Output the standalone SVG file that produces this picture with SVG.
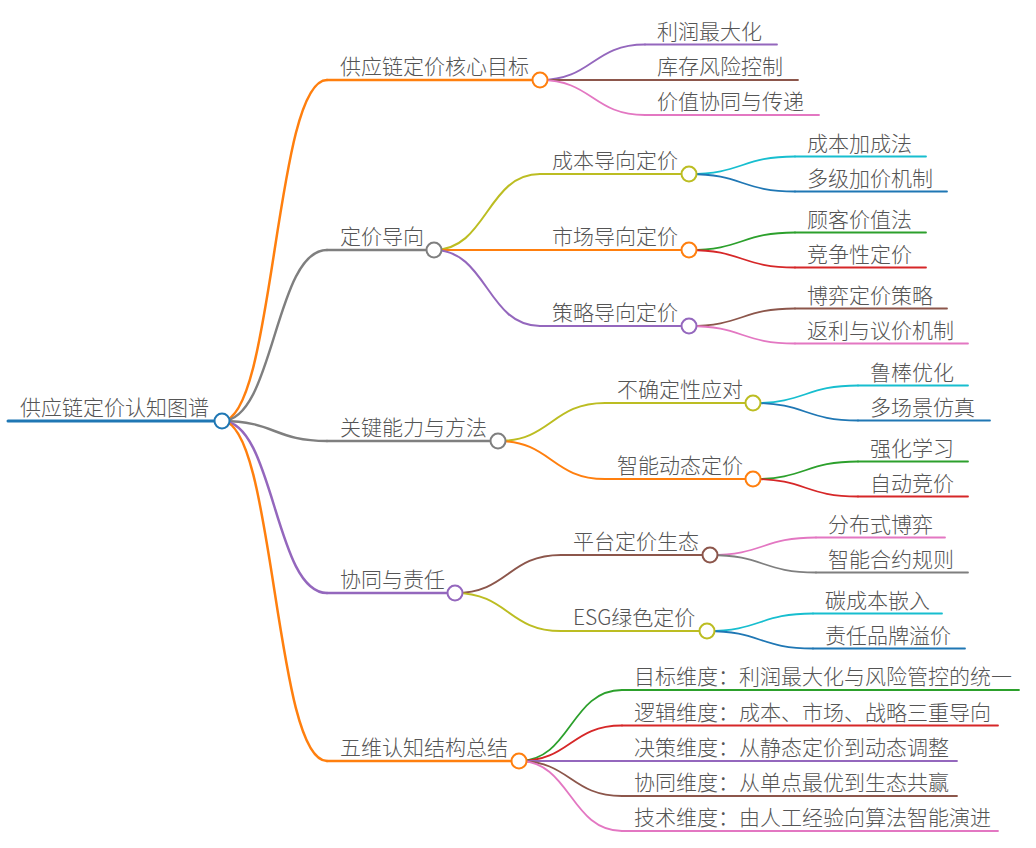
<svg xmlns="http://www.w3.org/2000/svg" width="1036" height="848" viewBox="0 0 1036 848">
<style>
text{font-family:"Noto Sans CJK SC","Noto Sans",sans-serif;font-size:21px;font-weight:300;fill:#555;}
path,line{fill:none;stroke-linecap:round;}
.c{fill:#fff;stroke-width:2;}
.l1{stroke-width:2.5;}
.l2{stroke-width:2;}
.l3{stroke-width:1.8;}
.or{stroke:#ff7f0e}.gy{stroke:#7f7f7f}.pu{stroke:#9467bd}.br{stroke:#8c564b}.pk{stroke:#e377c2}
.ol{stroke:#bcbd22}.cy{stroke:#17becf}.bl{stroke:#1f77b4}.gr{stroke:#2ca02c}.rd{stroke:#d62728}
</style>
<rect width="1036" height="848" fill="#fff"/>
<g id="connectors">
<path class="l1 or" d="M222,421 C274.5,421 274.5,80 327,80"/>
<path class="l1 gy" d="M222,421 C274.5,421 274.5,250 327,250"/>
<path class="l1 gy" d="M222,421 C274.5,421 274.5,441 327,441"/>
<path class="l1 pu" d="M222,421 C274.5,421 274.5,593 327,593"/>
<path class="l1 or" d="M222,421 C274.5,421 274.5,761 327,761"/>
<path class="l3 pu" d="M540,80 C592.5,80 592.5,44.5 645,44.5"/>
<path class="l3 br" d="M540,80 C592.5,80 592.5,80 645,80"/>
<path class="l3 pk" d="M540,80 C592.5,80 592.5,115 645,115"/>
<path class="l2 ol" d="M434,250 C487,250 487,174 540,174"/>
<path class="l2 or" d="M434,250 C487,250 487,250 540,250"/>
<path class="l2 pu" d="M434,250 C487,250 487,326 540,326"/>
<path class="l3 cy" d="M689,174 C742,174 742,156.5 795,156.5"/>
<path class="l3 bl" d="M689,174 C742,174 742,191.5 795,191.5"/>
<path class="l3 gr" d="M689,250 C742,250 742,232.5 795,232.5"/>
<path class="l3 rd" d="M689,250 C742,250 742,267.5 795,267.5"/>
<path class="l3 br" d="M689,326 C742,326 742,308.5 795,308.5"/>
<path class="l3 pk" d="M689,326 C742,326 742,343.5 795,343.5"/>
<path class="l2 ol" d="M498,441 C551.5,441 551.5,403 605,403"/>
<path class="l2 or" d="M498,441 C551.5,441 551.5,479 605,479"/>
<path class="l3 cy" d="M753,403 C805.5,403 805.5,385.5 858,385.5"/>
<path class="l3 bl" d="M753,403 C805.5,403 805.5,420.5 858,420.5"/>
<path class="l3 gr" d="M753,479 C805.5,479 805.5,461.5 858,461.5"/>
<path class="l3 rd" d="M753,479 C805.5,479 805.5,496.5 858,496.5"/>
<path class="l2 br" d="M455,593 C508,593 508,555 561,555"/>
<path class="l2 ol" d="M455,593 C508,593 508,631 561,631"/>
<path class="l3 pk" d="M710,555 C763,555 763,537.5 816,537.5"/>
<path class="l3 gy" d="M710,555 C763,555 763,572.5 816,572.5"/>
<path class="l3 cy" d="M707,631 C760,631 760,613.5 813,613.5"/>
<path class="l3 bl" d="M707,631 C760,631 760,648.5 813,648.5"/>
<path class="l3 gr" d="M519,761 C570.5,761 570.5,690 622,690"/>
<path class="l3 rd" d="M519,761 C570.5,761 570.5,725.5 622,725.5"/>
<path class="l3 pu" d="M519,761 C570.5,761 570.5,761 622,761"/>
<path class="l3 br" d="M519,761 C570.5,761 570.5,796 622,796"/>
<path class="l3 pk" d="M519,761 C570.5,761 570.5,831 622,831"/>
</g>
<g id="root">
<line x1="8" y1="421" x2="215" y2="421" stroke="#1f77b4" stroke-width="3"/>
<text x="20" y="415">供应链定价认知图谱</text>
<circle class="c bl" cx="222" cy="421" r="7.5"/>
</g>
<g id="n-goal">
<line class="l1 or" x1="327" y1="80" x2="532" y2="80"/>
<text x="340" y="74">供应链定价核心目标</text>
<circle class="c or" cx="540" cy="80" r="7.5"/>
</g>
<g id="n-goal-1"><line class="l3 pu" x1="645" y1="44.5" x2="777" y2="44.5"/><text x="657" y="38.5">利润最大化</text></g>
<g id="n-goal-2"><line class="l3 br" x1="645" y1="80" x2="798" y2="80"/><text x="657" y="74">库存风险控制</text></g>
<g id="n-goal-3"><line class="l3 pk" x1="645" y1="115" x2="819" y2="115"/><text x="657" y="109">价值协同与传递</text></g>
<g id="n-orient">
<line class="l1 gy" x1="327" y1="250" x2="426" y2="250"/>
<text x="340" y="244">定价导向</text>
<circle class="c gy" cx="434" cy="250" r="7.5"/>
</g>
<g id="n-cost">
<line class="l2 ol" x1="540" y1="174" x2="681" y2="174"/>
<text x="552" y="168">成本导向定价</text>
<circle class="c ol" cx="689" cy="174" r="7.5"/>
</g>
<g id="n-cost-1"><line class="l3 cy" x1="795" y1="156.5" x2="926" y2="156.5"/><text x="807" y="150.5">成本加成法</text></g>
<g id="n-cost-2"><line class="l3 bl" x1="795" y1="191.5" x2="947" y2="191.5"/><text x="807" y="185.5">多级加价机制</text></g>
<g id="n-market">
<line class="l2 or" x1="540" y1="250" x2="681" y2="250"/>
<text x="552" y="244">市场导向定价</text>
<circle class="c or" cx="689" cy="250" r="7.5"/>
</g>
<g id="n-market-1"><line class="l3 gr" x1="795" y1="232.5" x2="926" y2="232.5"/><text x="807" y="226.5">顾客价值法</text></g>
<g id="n-market-2"><line class="l3 rd" x1="795" y1="267.5" x2="926" y2="267.5"/><text x="807" y="261.5">竞争性定价</text></g>
<g id="n-strategy">
<line class="l2 pu" x1="540" y1="326" x2="681" y2="326"/>
<text x="552" y="320">策略导向定价</text>
<circle class="c pu" cx="689" cy="326" r="7.5"/>
</g>
<g id="n-strategy-1"><line class="l3 br" x1="795" y1="308.5" x2="947" y2="308.5"/><text x="807" y="302.5">博弈定价策略</text></g>
<g id="n-strategy-2"><line class="l3 pk" x1="795" y1="343.5" x2="968" y2="343.5"/><text x="807" y="337.5">返利与议价机制</text></g>
<g id="n-ability">
<line class="l1 gy" x1="327" y1="441" x2="490" y2="441"/>
<text x="340" y="435">关键能力与方法</text>
<circle class="c gy" cx="498" cy="441" r="7.5"/>
</g>
<g id="n-uncert">
<line class="l2 ol" x1="605" y1="403" x2="745" y2="403"/>
<text x="617" y="397">不确定性应对</text>
<circle class="c ol" cx="753" cy="403" r="7.5"/>
</g>
<g id="n-uncert-1"><line class="l3 cy" x1="858" y1="385.5" x2="968" y2="385.5"/><text x="870" y="379.5">鲁棒优化</text></g>
<g id="n-uncert-2"><line class="l3 bl" x1="858" y1="420.5" x2="990" y2="420.5"/><text x="870" y="414.5">多场景仿真</text></g>
<g id="n-dynamic">
<line class="l2 or" x1="605" y1="479" x2="745" y2="479"/>
<text x="617" y="473">智能动态定价</text>
<circle class="c or" cx="753" cy="479" r="7.5"/>
</g>
<g id="n-dynamic-1"><line class="l3 gr" x1="858" y1="461.5" x2="968" y2="461.5"/><text x="870" y="455.5">强化学习</text></g>
<g id="n-dynamic-2"><line class="l3 rd" x1="858" y1="496.5" x2="968" y2="496.5"/><text x="870" y="490.5">自动竞价</text></g>
<g id="n-collab">
<line class="l1 pu" x1="327" y1="593" x2="447" y2="593"/>
<text x="340" y="587">协同与责任</text>
<circle class="c pu" cx="455" cy="593" r="7.5"/>
</g>
<g id="n-platform">
<line class="l2 br" x1="561" y1="555" x2="702" y2="555"/>
<text x="573" y="549">平台定价生态</text>
<circle class="c br" cx="710" cy="555" r="7.5"/>
</g>
<g id="n-platform-1"><line class="l3 pk" x1="816" y1="537.5" x2="945" y2="537.5"/><text x="828" y="531.5">分布式博弈</text></g>
<g id="n-platform-2"><line class="l3 gy" x1="816" y1="572.5" x2="968" y2="572.5"/><text x="828" y="566.5">智能合约规则</text></g>
<g id="n-esg">
<line class="l2 ol" x1="561" y1="631" x2="699" y2="631"/>
<text x="573" y="625">ESG绿色定价</text>
<circle class="c ol" cx="707" cy="631" r="7.5"/>
</g>
<g id="n-esg-1"><line class="l3 cy" x1="813" y1="613.5" x2="942" y2="613.5"/><text x="825" y="607.5">碳成本嵌入</text></g>
<g id="n-esg-2"><line class="l3 bl" x1="813" y1="648.5" x2="965" y2="648.5"/><text x="825" y="642.5">责任品牌溢价</text></g>
<g id="n-summary">
<line class="l1 or" x1="327" y1="761" x2="511" y2="761"/>
<text x="340" y="755">五维认知结构总结</text>
<circle class="c or" cx="519" cy="761" r="7.5"/>
</g>
<g id="n-summary-1"><line class="l3 gr" x1="622" y1="690" x2="1019" y2="690"/><text x="634" y="684">目标维度：利润最大化与风险管控的统一</text></g>
<g id="n-summary-2"><line class="l3 rd" x1="622" y1="725.5" x2="998" y2="725.5"/><text x="634" y="719.5">逻辑维度：成本、市场、战略三重导向</text></g>
<g id="n-summary-3"><line class="l3 pu" x1="622" y1="761" x2="957" y2="761"/><text x="634" y="755">决策维度：从静态定价到动态调整</text></g>
<g id="n-summary-4"><line class="l3 br" x1="622" y1="796" x2="957" y2="796"/><text x="634" y="790">协同维度：从单点最优到生态共赢</text></g>
<g id="n-summary-5"><line class="l3 pk" x1="622" y1="831" x2="998" y2="831"/><text x="634" y="825">技术维度：由人工经验向算法智能演进</text></g>
</svg>
